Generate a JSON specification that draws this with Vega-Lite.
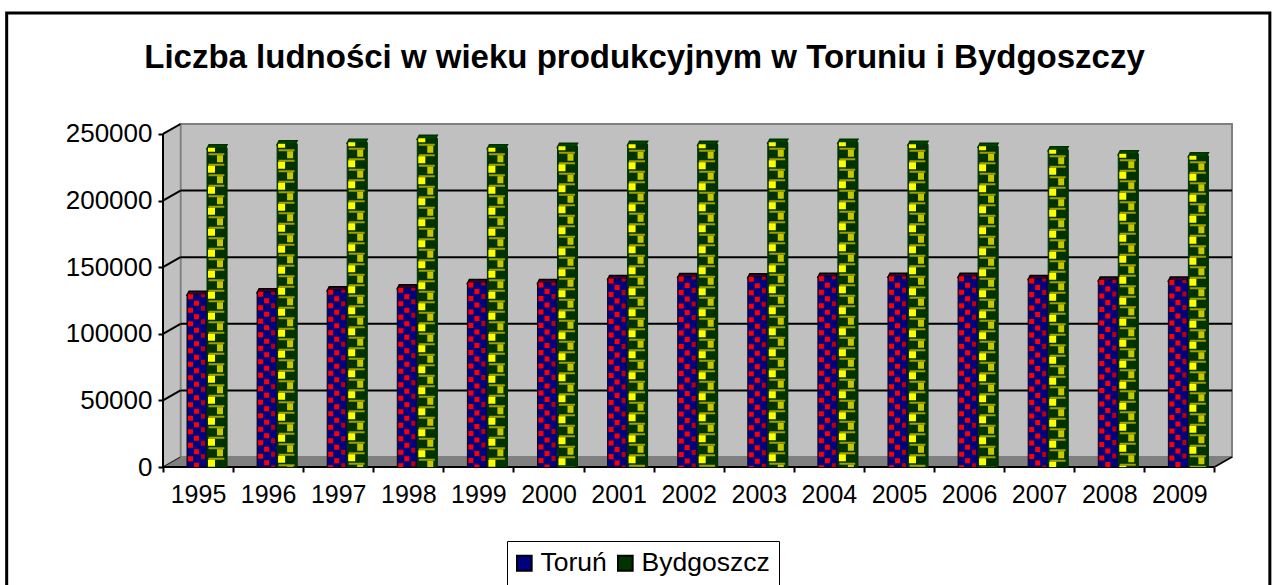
{
"$schema":"https://vega.github.io/schema/vega-lite/v6.json",
"width":1069,"height":343,
"autosize":{"type":"none"},
"padding":{"left":163,"top":124,"right":40,"bottom":118},
"background":"white",
"view":{"stroke":null},
"title":{"text":"Liczba ludności w wieku produkcyjnym w Toruniu i Bydgoszczy","font":"Liberation Sans","fontSize":33,"fontWeight":"bold","color":"black","anchor":"middle","frame":"group","dx":-53,"offset":-63},
"config":{"font":"Liberation Sans"},
"datasets":{
"pop":[
{"year":1995,"city":"Toruń","value":129700},{"year":1996,"city":"Toruń","value":131500},{"year":1997,"city":"Toruń","value":133000},{"year":1998,"city":"Toruń","value":134500},{"year":1999,"city":"Toruń","value":138500},{"year":2000,"city":"Toruń","value":138500},{"year":2001,"city":"Toruń","value":141500},{"year":2002,"city":"Toruń","value":143000},{"year":2003,"city":"Toruń","value":142800},{"year":2004,"city":"Toruń","value":143200},{"year":2005,"city":"Toruń","value":143200},{"year":2006,"city":"Toruń","value":143200},{"year":2007,"city":"Toruń","value":141500},{"year":2008,"city":"Toruń","value":140300},{"year":2009,"city":"Toruń","value":140300},
{"year":1995,"city":"Bydgoszcz","value":239600},{"year":1996,"city":"Bydgoszcz","value":242600},{"year":1997,"city":"Bydgoszcz","value":243800},{"year":1998,"city":"Bydgoszcz","value":246800},{"year":1999,"city":"Bydgoszcz","value":239600},{"year":2000,"city":"Bydgoszcz","value":240800},{"year":2001,"city":"Bydgoszcz","value":242300},{"year":2002,"city":"Bydgoszcz","value":242300},{"year":2003,"city":"Bydgoszcz","value":243800},{"year":2004,"city":"Bydgoszcz","value":243800},{"year":2005,"city":"Bydgoszcz","value":242300},{"year":2006,"city":"Bydgoszcz","value":240800},{"year":2007,"city":"Bydgoszcz","value":238100},{"year":2008,"city":"Bydgoszcz","value":235100},{"year":2009,"city":"Bydgoszcz","value":233600}],
"one":[{"k":1}],
"grid":[{"v":50000},{"v":100000},{"v":150000},{"v":200000},{"v":250000}],
"side":[{"x":1995,"lo":0,"hi":250000},{"x":1995.25,"lo":7500,"hi":257500}],
"floor":[{"x":1995,"lo":0,"hi":0},{"x":1995.25,"lo":0,"hi":7500},{"x":2010,"lo":0,"hi":7500},{"x":2010.25,"lo":7500,"hi":7500}]
},
"layer":[
{"data":{"name":"one"},"mark":{"type":"rect","fill":"white","stroke":"black","strokeWidth":3,"clip":false},"encoding":{"x":{"datum":1992.77,"type":"quantitative","scale":{"domain":[1995,2010.25],"nice":false,"zero":false,"padding":0},"axis":{"values":[1995,1996,1997,1998,1999,2000,2001,2002,2003,2004,2005,2006,2007,2008,2009,2010],"labelExpr":"datum.value<2010?format(datum.value,'d'):''","labelOffset":35,"labelFont":"Liberation Sans","labelFontSize":25,"labelColor":"black","labelPadding":10,"tickColor":"black","tickWidth":2,"tickSize":5,"domain":false,"grid":false,"title":null,"labelFlush":false,"labelOverlap":false,"labelBound":false,"zindex":1}},"x2":{"datum":2010.79},"y":{"datum":340800,"type":"quantitative","scale":{"domain":[0,257500],"nice":false,"padding":0},"axis":{"values":[0,50000,100000,150000,200000,250000],"format":"d","labelFont":"Liberation Sans","labelFontSize":26,"labelColor":"black","labelPadding":6,"tickColor":"black","tickWidth":2,"tickSize":5,"domain":false,"grid":false,"title":null,"labelOverlap":false,"labelBound":false,"zindex":1}},"y2":{"datum":-100000}}},
{"data":{"name":"one"},"mark":{"type":"rect","fill":"#c0c0c0","stroke":"#808080","strokeWidth":2},"encoding":{"x":{"datum":1995.25,"type":"quantitative"},"x2":{"datum":2010.25},"y":{"datum":7500,"type":"quantitative"},"y2":{"datum":257500}}},
{"data":{"name":"side"},"mark":{"type":"area","fill":"#c0c0c0","stroke":"#808080","strokeWidth":1.5,"orient":"vertical"},"encoding":{"x":{"field":"x","type":"quantitative"},"y":{"field":"lo","type":"quantitative"},"y2":{"field":"hi"}}},
{"data":{"name":"floor"},"mark":{"type":"area","fill":"#808080","orient":"vertical"},"encoding":{"x":{"field":"x","type":"quantitative"},"y":{"field":"lo","type":"quantitative"},"y2":{"field":"hi"}}},
{"data":{"name":"grid"},"transform":[{"calculate":"datum.v+7500","as":"vb"},{"filter":"datum.v<250000"}],"mark":{"type":"rule","color":"black","strokeWidth":2},"encoding":{"x":{"datum":1995.25,"type":"quantitative"},"x2":{"datum":2010.25},"y":{"field":"vb","type":"quantitative"}}},
{"data":{"name":"grid"},"transform":[{"calculate":"datum.v+7500","as":"vb"}],"mark":{"type":"rule","color":"black","strokeWidth":2},"encoding":{"x":{"datum":1995,"type":"quantitative"},"x2":{"datum":1995.25},"y":{"field":"v","type":"quantitative"},"y2":{"field":"vb"}}},
{"data":{"name":"one"},"mark":{"type":"rule","color":"#202020","strokeWidth":1},"encoding":{"x":{"datum":1995,"type":"quantitative"},"x2":{"datum":1995.25},"y":{"datum":0,"type":"quantitative"},"y2":{"datum":7500}}},
{"data":{"name":"one"},"mark":{"type":"rule","color":"black","strokeWidth":1.5},"encoding":{"x":{"datum":2010,"type":"quantitative"},"x2":{"datum":2010.25},"y":{"datum":0,"type":"quantitative"},"y2":{"datum":7500}}},
{"data":{"name":"one"},"mark":{"type":"rule","color":"black","strokeWidth":2},"encoding":{"x":{"datum":1995,"type":"quantitative"},"y":{"datum":0,"type":"quantitative"},"y2":{"datum":250000}}},
{"data":{"name":"one"},"mark":{"type":"rule","color":"black","strokeWidth":2},"encoding":{"x":{"datum":1995,"type":"quantitative"},"x2":{"datum":2010},"y":{"datum":0,"type":"quantitative"}}},
{"data":{"name":"pop"},"transform":[{"filter":"false"}],"mark":{"type":"point","shape":"square","filled":true,"opacity":1},"encoding":{"x":{"field":"year","type":"quantitative"},"y":{"field":"value","type":"quantitative"},"fill":{"field":"city","type":"nominal","scale":{"domain":["Toruń","Bydgoszcz"],"range":["#000080","#003300"]},"legend":{"orient":"none","legendX":344,"legendY":417,"direction":"horizontal","columns":2,"title":null,"labelFont":"Liberation Sans","labelFontSize":26.5,"labelColor":"black","symbolSize":220,"symbolStrokeWidth":2,"symbolStrokeColor":"black","symbolType":"square","symbolOpacity":1,"symbolOffset":-5,"strokeColor":"black","fillColor":"white","padding":9,"columnPadding":10,"labelOffset":3,"clipHeight":26}}}},

{"data":{"name":"pop"},"transform":[{"filter":"datum.city=='Toruń'"}],"mark":{"type":"point","shape":"M-1,0.2L0.8,0.2L1,-0.2L-0.8,-0.2Z","size":400,"filled":true,"fill":"#400030","stroke":"black","strokeWidth":1.5,"opacity":1,"xOffset":34,"yOffset":-1},"encoding":{"x":{"field":"year","type":"quantitative"},"y":{"field":"value","type":"quantitative"}}},
{"data":{"name":"pop"},"transform":[{"filter":"datum.city=='Toruń'"}],"mark":{"type":"bar","width":20,"fill":"#000080","stroke":"#100010","strokeWidth":1,"xOffset":34,"orient":"vertical"},"encoding":{"x":{"field":"year","type":"quantitative"},"y":{"field":"value","type":"quantitative"}}},
{"data":{"name":"pop"},"transform":[{"filter":"datum.city=='Toruń'"}],"mark":{"type":"rule","color":"#ff0000","strokeWidth":5,"strokeDash":[5,8.5],"xOffset":27.5},"encoding":{"x":{"field":"year","type":"quantitative"},"y":{"field":"value","type":"quantitative"},"y2":{"datum":0}}},
{"data":{"name":"pop"},"transform":[{"filter":"datum.city=='Toruń'"}],"mark":{"type":"rule","color":"#ff0000","strokeWidth":5,"strokeDash":[5,8.5],"strokeDashOffset":7,"xOffset":33.5},"encoding":{"x":{"field":"year","type":"quantitative"},"y":{"field":"value","type":"quantitative"},"y2":{"datum":0}}},
{"data":{"name":"pop"},"transform":[{"filter":"datum.city=='Toruń'"}],"mark":{"type":"rule","color":"#c00000","strokeWidth":4,"strokeDash":[5,8.5],"strokeDashOffset":2,"xOffset":40},"encoding":{"x":{"field":"year","type":"quantitative"},"y":{"field":"value","type":"quantitative"},"y2":{"datum":0}}},
{"data":{"name":"pop"},"transform":[{"filter":"datum.city=='Bydgoszcz'"}],"mark":{"type":"point","shape":"M-1,0.2L0.8,0.2L1,-0.2L-0.8,-0.2Z","size":400,"filled":true,"fill":"#004400","stroke":"#003300","strokeWidth":1.5,"opacity":1,"xOffset":54,"yOffset":-1},"encoding":{"x":{"field":"year","type":"quantitative"},"y":{"field":"value","type":"quantitative"}}},
{"data":{"name":"pop"},"transform":[{"filter":"datum.city=='Bydgoszcz'"}],"mark":{"type":"bar","width":20,"fill":"#003300","stroke":"#003300","strokeWidth":1,"xOffset":54,"orient":"vertical"},"encoding":{"x":{"field":"year","type":"quantitative"},"y":{"field":"value","type":"quantitative"}}},
{"data":{"name":"pop"},"transform":[{"filter":"datum.city=='Bydgoszcz'"}],"mark":{"type":"rule","color":"#a0a000","strokeWidth":16,"strokeDash":[2,8.5],"strokeDashOffset":5,"xOffset":53.5},"encoding":{"x":{"field":"year","type":"quantitative"},"y":{"field":"value","type":"quantitative"},"y2":{"datum":0}}},
{"data":{"name":"pop"},"transform":[{"filter":"datum.city=='Bydgoszcz'"}],"mark":{"type":"rule","color":"#ffff00","strokeWidth":7,"strokeDash":[7,14],"strokeDashOffset":3,"xOffset":48.5},"encoding":{"x":{"field":"year","type":"quantitative"},"y":{"field":"value","type":"quantitative"},"y2":{"datum":0}}},
{"data":{"name":"pop"},"transform":[{"filter":"datum.city=='Bydgoszcz'"}],"mark":{"type":"rule","color":"#c8c800","strokeWidth":6,"strokeDash":[7,14],"strokeDashOffset":13.5,"xOffset":57},"encoding":{"x":{"field":"year","type":"quantitative"},"y":{"field":"value","type":"quantitative"},"y2":{"datum":0}}},
{"data":{"name":"pop"},"transform":[{"filter":"datum.city=='Bydgoszcz'"}],"mark":{"type":"bar","width":2.5,"fill":"#003300","xOffset":63,"orient":"vertical"},"encoding":{"x":{"field":"year","type":"quantitative"},"y":{"field":"value","type":"quantitative"}}}
]
}
